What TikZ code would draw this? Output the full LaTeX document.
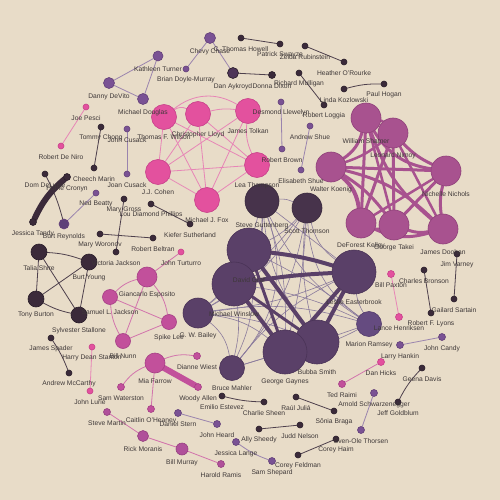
\documentclass[tikz,border=0pt]{standalone}
\usepackage{fontspec}
\setmainfont{Liberation Sans}
\pgfdeclarelayer{bgl}\pgfdeclarelayer{edges}\pgfdeclarelayer{labels}
\pgfsetlayers{bgl,edges,main,labels}
\definecolor{bgc}{HTML}{E8DCC8}
\definecolor{cText}{HTML}{3E3838}
\definecolor{cPink}{HTML}{E3519E}\definecolor{cPinkD}{HTML}{C8408A}
\definecolor{cMag}{HTML}{C2509B}\definecolor{cMagD}{HTML}{A53F85}
\definecolor{cTrek}{HTML}{A8528F}\definecolor{cTrekD}{HTML}{8F4079}
\definecolor{cGB}{HTML}{B0509A}\definecolor{cGBD}{HTML}{954080}
\definecolor{cPurp}{HTML}{7A5294}\definecolor{cPurpD}{HTML}{634079}
\definecolor{cDark}{HTML}{3B2A3A}\definecolor{cDarkD}{HTML}{2A1E2A}
\definecolor{cPol}{HTML}{5A4068}\definecolor{cPolD}{HTML}{4A3357}
\definecolor{cPolK}{HTML}{47334B}\definecolor{cPolKD}{HTML}{3A2A3E}
\definecolor{cMR}{HTML}{654B80}\definecolor{cMRD}{HTML}{543C6C}
\definecolor{cDA}{HTML}{4E3558}
\definecolor{cBR}{HTML}{5E4178}
\definecolor{eDarkc}{HTML}{4E404C}
\definecolor{ePurpc}{HTML}{9A84AE}
\definecolor{ePinkc}{HTML}{E785B6}
\definecolor{eMagc}{HTML}{D274AC}
\definecolor{ePolc}{HTML}{8A7A9C}
\newcommand\actor[6]{%
  \node[nd,#5,minimum size=#4*2pt] (#1) at (#2,#3) {};
  \begin{pgfonlayer}{labels}\node[lbl] (#1-l) at (#2,#3+#4+8) {#6};\end{pgfonlayer}}
\begin{document}
\begin{tikzpicture}[x=1pt,y=-1pt,
  nd/.style={circle,inner sep=0pt,outer sep=0pt,line width=0.6pt},
  lbl/.style={font=\fontsize{6.7}{7}\selectfont,text=cText,inner sep=0pt},
  pink/.style={fill=cPink,draw=cPinkD},
  mag/.style={fill=cMag,draw=cMagD},
  trek/.style={fill=cTrek,draw=cTrekD},
  gbus/.style={fill=cGB,draw=cGBD},
  purp/.style={fill=cPurp,draw=cPurpD},
  dark/.style={fill=cDark,draw=cDarkD},
  pol/.style={fill=cPol,draw=cPolD},
  polk/.style={fill=cPolK,draw=cPolKD},
  mr/.style={fill=cMR,draw=cMRD},
  eDark/.style={draw=eDarkc,line width=0.8pt},
  ePurp/.style={draw=ePurpc,line width=0.8pt},
  ePink/.style={draw=ePinkc,line width=0.8pt},
  eMag/.style={draw=eMagc,line width=0.8pt},
  ePol/.style={draw=ePolc,line width=0.6pt},
  ePolT/.style={draw=cPol,line width=4pt},
  eTrek/.style={draw=cTrek,line width=3pt},
]
\begin{pgfonlayer}{bgl}
\fill[bgc] (0,0) rectangle (500,500);
\end{pgfonlayer}
\useasboundingbox (0,0) rectangle (500,500);
% top
\actor{kt}{158}{56}{5}{purp}{Kathleen Turner}
\actor{dd}{109}{83}{5.5}{purp}{Danny DeVito}
\actor{md}{143}{99}{5.5}{purp}{Michael Douglas}
\actor{cc}{210}{38}{5.5}{purp}{Chevy Chase}
\actor{bdm}{186}{69}{3}{purp}{Brian Doyle-Murray}
\actor{da}{233}{73}{5.5}{fill=cDA,draw=cDarkD}{Dan Aykroyd}
\actor{dnd}{272}{75}{3.5}{dark}{Donna Dixon}
\actor{cth}{241}{38}{3}{dark}{C. Thomas Howell}
\actor{ps}{280}{44}{3}{dark}{Patrick Swayze}
\actor{zr}{305}{46}{3}{dark}{Zelda Rubinstein}
\actor{hor}{344}{62}{3}{dark}{Heather O'Rourke}
\actor{rm}{299}{73}{3}{dark}{Richard Mulligan}
\actor{rl}{324}{105}{3}{dark}{Robert Loggia}
\actor{lk}{344}{89}{3}{dark}{Linda Kozlowski}
\actor{ph}{384}{84}{3}{dark}{Paul Hogan}
\actor{dl}{281}{102}{3}{purp}{Desmond Llewelyn}
\actor{rb}{282}{149}{3}{purp}{Robert Brown}
\actor{as}{310}{126}{3}{purp}{Andrew Shue}
\actor{es}{301}{170}{3}{purp}{Elisabeth Shue}
% BTTF
\actor{tfw}{164}{117}{12.5}{pink}{Thomas F. Wilson}
\actor{cl}{198}{114}{12.5}{pink}{Christopher Lloyd}
\actor{jt}{248}{111}{12.5}{pink}{James Tolkan}
\actor{lt}{257}{165}{12.5}{pink}{Lea Thompson}
\actor{mjf}{207}{200}{12.5}{pink}{Michael J. Fox}
\actor{jjc}{158}{172}{12.5}{pink}{J.J. Cohen}
% left
\actor{jp}{86}{107}{3}{pink}{Joe Pesci}
\actor{rdn}{61}{146}{3}{pink}{Robert De Niro}
\actor{tc}{101}{127}{3}{dark}{Tommy Chong}
\actor{chm}{94}{168}{3}{dark}{Cheech Marin}
\actor{jcu}{127}{129}{3}{purp}{John Cusack}
\actor{jcs}{127}{174}{3}{purp}{Joan Cusack}
\actor{ddl}{45}{174}{3}{dark}{Dom DeLuise}
\actor{hc}{67}{177}{3.5}{dark}{Hume Cronyn}
\actor{jta}{33}{222}{3.5}{dark}{Jessica Tandy}
\actor{br}{64}{224}{5}{fill=cBR,draw=cPurpD}{Burt Reynolds}
\actor{nb}{96}{193}{3}{purp}{Ned Beatty}
\actor{mg}{124}{199}{3}{dark}{Mary Gross}
\actor{vj}{116}{252}{3}{dark}{Victoria Jackson}
\actor{mwo}{100}{234}{3}{dark}{Mary Woronov}
\actor{rbe}{153}{238}{3}{dark}{Robert Beltran}
\actor{ldp}{151}{204}{3}{dark}{Lou Diamond Phillips}
\actor{ks}{190}{224}{3}{dark}{Kiefer Sutherland}
% Rocky
\actor{tsh}{39}{252}{8}{dark}{Talia Shire}
\actor{by}{89}{262}{8}{dark}{Burt Young}
\actor{tb}{36}{299}{8}{dark}{Tony Burton}
\actor{ss}{79}{315}{8}{dark}{Sylvester Stallone}
% DRT
\actor{ge}{147}{277}{10}{mag}{Giancarlo Esposito}
\actor{slj}{110}{297}{7.5}{mag}{Samuel L. Jackson}
\actor{sl}{169}{322}{7.5}{mag}{Spike Lee}
\actor{bn}{123}{341}{7.5}{mag}{Bill Nunn}
\actor{jtu}{181}{252}{3}{pink}{John Turturro}
\actor{hds}{92}{347}{3}{pink}{Harry Dean Stanton}
\actor{jl}{90}{391}{3}{pink}{John Lurie}
\actor{jsp}{51}{338}{3}{dark}{James Spader}
\actor{amc}{69}{373}{3}{dark}{Andrew McCarthy}
% Mia
\actor{mf}{155}{363}{10}{mag}{Mia Farrow}
\actor{dw}{197}{356}{3.5}{mag}{Dianne Wiest}
\actor{wa}{198}{387}{3.5}{mag}{Woody Allen}
\actor{sw}{121}{387}{3.5}{mag}{Sam Waterston}
\actor{co}{151}{409}{3.5}{mag}{Caitlin O'Heaney}
\actor{sm}{107}{412}{3.5}{gbus}{Steve Martin}
\actor{rmo}{143}{436}{5.5}{gbus}{Rick Moranis}
\actor{bmu}{182}{449}{6}{gbus}{Bill Murray}
\actor{hr}{221}{464}{3.5}{gbus}{Harold Ramis}
\actor{dst}{178}{413}{3.5}{purp}{Daniel Stern}
\actor{jh}{217}{424}{3.5}{purp}{John Heard}
\actor{ee}{222}{396}{3}{dark}{Emilio Estevez}
\actor{chs}{264}{402}{3}{dark}{Charlie Sheen}
\actor{rj}{296}{397}{3}{dark}{Raúl Juliá}
\actor{sb}{334}{411}{3}{dark}{Sônia Braga}
\actor{asy}{259}{429}{3}{dark}{Ally Sheedy}
\actor{jn}{300}{425}{3}{dark}{Judd Nelson}
\actor{jla}{236}{442}{3.5}{purp}{Jessica Lange}
\actor{ssh}{272}{461}{3.5}{purp}{Sam Shepard}
\actor{cf}{298}{455}{3}{dark}{Corey Feldman}
\actor{ch}{336}{439}{3}{dark}{Corey Haim}
\actor{sot}{361}{430}{3.5}{purp}{Sven-Ole Thorsen}
\actor{asc}{374}{393}{3.5}{purp}{Arnold Schwarzenegger}
\actor{gd}{422}{368}{3}{dark}{Geena Davis}
\actor{jg}{398}{402}{3}{dark}{Jeff Goldblum}
\actor{dh}{381}{362}{3.5}{pink}{Dan Hicks}
\actor{tr}{342}{384}{3.5}{mag}{Ted Raimi}
\actor{lh}{400}{345}{3.5}{purp}{Larry Hankin}
\actor{jca}{442}{337}{3.5}{purp}{John Candy}
\actor{bp}{391}{274}{3.5}{pink}{Bill Paxton}
\actor{lhe}{399}{317}{3.5}{pink}{Lance Henriksen}
\actor{cb}{424}{270}{3}{dark}{Charles Bronson}
\actor{rfl}{431}{313}{3}{dark}{Robert F. Lyons}
\actor{jv}{457}{254}{3}{dark}{Jim Varney}
\actor{gs}{454}{299}{3}{dark}{Gailard Sartain}
% Star Trek
\actor{wsh}{366}{118}{15}{trek}{William Shatner}
\actor{ln}{393}{133}{15}{trek}{Leonard Nimoy}
\actor{nn}{446}{171}{15}{trek}{Nichelle Nichols}
\actor{wk}{331}{167}{15}{trek}{Walter Koenig}
\actor{dfk}{361}{223}{15}{trek}{DeForest Kelley}
\actor{gt}{394}{225}{15}{trek}{George Takei}
\actor{jd}{443}{229}{15}{trek}{James Doohan}
% Police Academy
\actor{sg}{262}{201}{17}{polk}{Steve Guttenberg}
\actor{st}{307}{208}{15}{polk}{Scott Thomson}
\actor{dg}{249}{250}{22}{pol}{David Graf}
\actor{mw}{234}{284}{22}{pol}{Michael Winslow}
\actor{gb}{198}{313}{15}{pol}{G. W. Bailey}
\actor{le}{354}{272}{22}{pol}{Leslie Easterbrook}
\actor{bs}{317}{342}{22}{pol}{Bubba Smith}
\actor{gg}{285}{352}{22}{pol}{George Gaynes}
\actor{bm}{232}{368}{12.5}{pol}{Bruce Mahler}
\actor{mr}{369}{324}{12.5}{mr}{Marion Ramsey}

\begin{pgfonlayer}{edges}
% small pairs
\draw[ePurp] (kt) -- (dd); \draw[ePurp] (kt) -- (md); \draw[ePurp] (dd) -- (md);
\draw[ePurp] (cc) -- (bdm); \draw[ePurp] (cc) -- (da); \draw[eDark] (da) -- (dnd);
\draw[eDark] (cth) -- (ps); \draw[eDark] (zr) -- (hor);
\draw[eDark] (rm) -- (rl); \draw[eDark] (lk) to[bend left=8] (ph);
\draw[ePurp] (dl) -- (rb); \draw[ePurp] (as) -- (es);
\draw[ePink] (jp) -- (rdn); \draw[eDark] (tc) -- (chm); \draw[ePurp] (jcu) -- (jcs);
\draw[eDark] (ddl) to[bend left=6] (br); \draw[ePurp] (br) -- (nb);
\draw[draw=cDark,line width=6pt,line cap=round] (hc) to[bend right=12] (jta);
\draw[eDark] (mg) -- (vj); \draw[eDark] (mwo) -- (rbe); \draw[eDark] (ldp) -- (ks);
\draw[ePink] (hds) -- (jl); \draw[eDark] (jsp) to[bend left=6] (amc);
\draw[eMag] (sm) -- (rmo); \draw[eMag] (rmo) -- (bmu); \draw[eMag] (bmu) -- (hr);
\draw[ePurp] (dst) -- (jh); \draw[eDark] (ee) to[bend right=6] (chs);
\draw[eDark] (rj) -- (sb); \draw[eDark] (asy) -- (jn);
\draw[ePurp] (jla) to[bend right=8] (ssh); \draw[eDark] (cf) -- (ch);
\draw[ePurp] (sot) -- (asc); \draw[eDark] (gd) to[bend right=8] (jg);
\draw[eMag] (dh) -- (tr); \draw[ePurp] (lh) -- (jca);
\draw[ePink] (bp) -- (lhe); \draw[eDark] (cb) -- (rfl); \draw[eDark] (jv) -- (gs);
% Rocky
\draw[eDark] (tsh) to[bend left=8] (by); \draw[eDark] (tsh) -- (tb); \draw[eDark] (tsh) -- (ss);
\draw[eDark] (by) -- (tb); \draw[eDark] (by) -- (ss); \draw[eDark] (tb) to[bend right=8] (ss);
% DRT
\draw[eMag] (ge) to[bend right=15] (slj); \draw[eMag] (ge) to[bend left=15] (sl);
\draw[eMag] (ge) -- (bn); \draw[eMag] (slj) -- (sl); \draw[eMag] (slj) to[bend right=12] (bn);
\draw[eMag] (sl) -- (bn); \draw[eMag] (ge) -- (jtu);
% Mia
\draw[eMag] (mf) to[bend left=15] (dw); \draw[eMag] (mf) to[bend right=15] (sw); \draw[eMag] (mf) -- (co);
\draw[draw=cMag,line width=6pt,line cap=round] (mf) -- (wa);
% BTTF
\foreach \a/\b/\bd in {tfw/cl/30,tfw/jt/35,cl/jt/10,tfw/jjc/0,tfw/mjf/0,tfw/lt/0,cl/jjc/0,cl/mjf/0,cl/lt/0,jt/jjc/0,jt/mjf/0,jt/lt/-15,jjc/lt/0,jjc/mjf/0,mjf/lt/0}
  \draw[ePink] (\a) to[bend left=\bd] (\b);
% Star Trek
\foreach \a/\b/\bd/\w in {wsh/ln/20/2.5,wsh/nn/-25/3,wsh/wk/20/3,wsh/dfk/0/3,wsh/gt/0/2.5,wsh/jd/-15/3,ln/nn/-10/3,ln/wk/10/2.5,ln/dfk/0/3,ln/gt/0/3,ln/jd/0/2.5,nn/wk/0/3,nn/dfk/0/2.5,nn/gt/0/3,nn/jd/-10/3,wk/dfk/20/4,wk/gt/10/3,wk/jd/15/3,dfk/gt/-20/3,dfk/jd/-20/3,gt/jd/-15/3}
  \draw[eTrek,line width=\w pt] (\a) to[bend left=\bd] (\b);
% Police Academy thin
\foreach \a/\b/\bd in {sg/st/15,sg/dg/0,sg/mw/20,sg/gb/30,sg/le/0,sg/bs/-15,sg/gg/10,sg/bm/30,sg/mr/-15,
  st/dg/10,st/mw/5,st/gb/15,st/le/-20,st/bs/-10,st/gg/5,st/bm/15,st/mr/-25,
  dg/gb/10,dg/mr/5,mw/gb/0,mw/bm/10,mw/mr/8,gb/le/-8,gb/bs/8,gb/gg/15,gb/bm/20,gb/mr/12,
  le/mr/-10,bs/mr/0,gg/mr/-8,bm/le/12,bm/bs/0,bm/gg/0,dg/mw/0,bs/gg/0,dg/bm/15}
  \draw[ePol] (\a) to[bend left=\bd] (\b);
% Police Academy thick
\draw[ePolT] (dg) to[bend left=5] (le);
\draw[ePolT] (mw) to[bend left=3] (le);
\draw[ePolT] (dg) -- (bs);
\draw[ePolT] (mw) -- (gg);
\draw[ePolT,line width=3pt] (mw) -- (bs);
\draw[ePolT,line width=3pt] (dg) -- (gg);
\draw[ePolT] (le) -- (bs);
\draw[ePolT] (le) -- (gg);
\end{pgfonlayer}
\end{tikzpicture}
\end{document}
